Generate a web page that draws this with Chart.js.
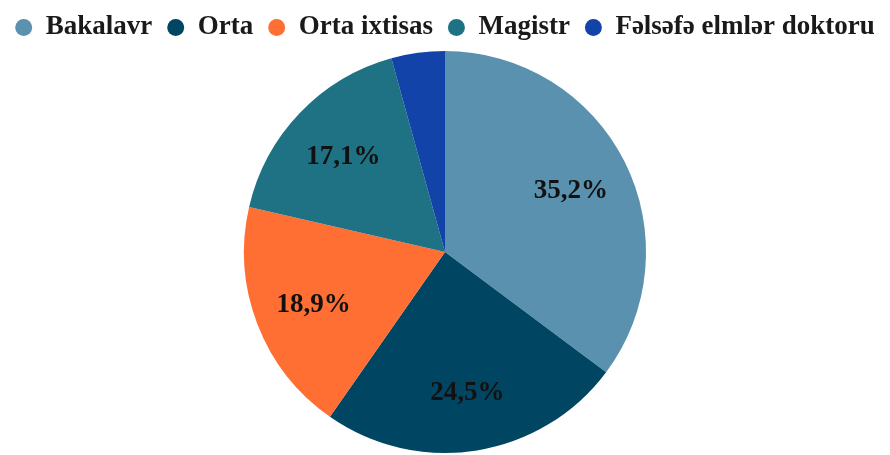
<!DOCTYPE html>
<html>
<head>
<meta charset="utf-8">
<script src="https://cdn.jsdelivr.net/npm/chart.js@4"></script>
<style>
    html, body { margin: 0; padding: 0; background: #fff; }
    #wrap { width: 890px; height: 455px; position: relative; }
</style>
</head>
<body>
<div id="wrap"><canvas id="myChart"></canvas></div>
<script>
const categories = ['Bakalavr', 'Orta', 'Orta ixtisas', 'Magistr', 'Fəlsəfə elmlər doktoru'];
const shares = [35.2, 24.5, 18.9, 17.1, 4.3];
const labelsShown = ['35,2%', '24,5%', '18,9%', '17,1%', ''];
const colors = ['#5A91AE', '#004561', '#FF6E33', '#1E7283', '#1243A8'];

// draws the percentages inside the slices
const sliceLabels = {
    id: 'sliceLabels',
    afterDatasetsDraw(chart) {
        const ctx = chart.ctx;
        const meta = chart.getDatasetMeta(0);
        ctx.save();
        ctx.font = 'bold 27px "Liberation Serif", "Times New Roman", serif';
        ctx.fillStyle = '#111';
        ctx.textAlign = 'center';
        ctx.textBaseline = 'middle';
        meta.data.forEach(function (arc, i) {
            if (!labelsShown[i]) return;
            const p = arc.getProps(['x', 'y', 'startAngle', 'endAngle', 'outerRadius'], true);
            const mid = (p.startAngle + p.endAngle) / 2;
            const r = p.outerRadius * 0.7;
            ctx.fillText(labelsShown[i], p.x + Math.cos(mid) * r, p.y + Math.sin(mid) * r + 2);
        });
        ctx.restore();
    }
};

const ctx = document.getElementById('myChart');
let myChart = new Chart(ctx, {
    type: 'pie',
    data: {
        labels: categories,
        datasets: [{
            data: shares,
            backgroundColor: colors,
            borderWidth: 0
        }]
    },
    options: {
        responsive: true,
        maintainAspectRatio: false,
        animation: false,
        layout: {padding: {top: -1, bottom: 2}},
        plugins: {
            tooltip: {enabled: false},
            legend: {
                position: 'top',
                labels: {
                    usePointStyle: true,
                    pointStyle: 'circle',
                    boxWidth: 17,
                    boxHeight: 12,
                    padding: 15,
                    color: '#1a1a1a',
                    font: {family: '"Liberation Serif", "Times New Roman", serif', size: 27, weight: 'bold'}
                }
            }
        }
    },
    plugins: [sliceLabels]
});
</script>
</body>
</html>
